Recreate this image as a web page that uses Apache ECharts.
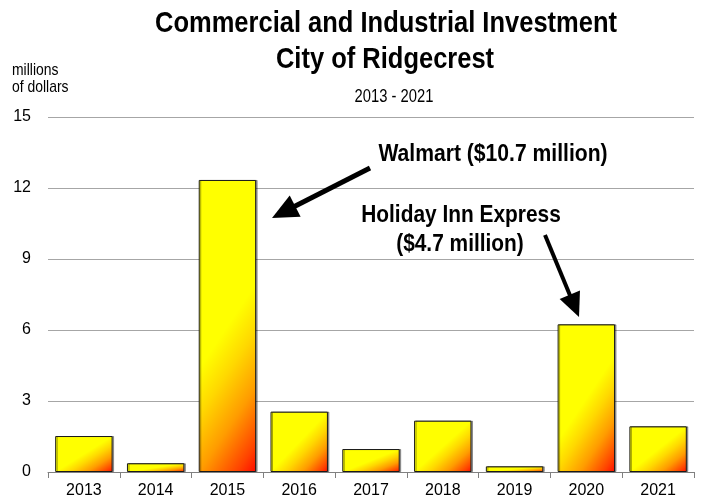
<!DOCTYPE html>
<html>
<head>
<meta charset="utf-8">
<script src="https://cdn.jsdelivr.net/npm/echarts@6/dist/echarts.min.js"></script>
<style>
html,body{margin:0;padding:0;background:#fff;}
#chart{width:702px;height:504px;}
</style>
</head>
<body>
<div id="chart"></div>
<script>
// ---- data ----
const years = ['2013', '2014', '2015', '2016', '2017', '2018', '2019', '2020', '2021'];
const investment = [1.52, 0.37, 12.34, 2.55, 0.97, 2.17, 0.24, 6.24, 1.93];
const yMin = 0, yMax = 15, yStep = 3;
const titleLines = ['Commercial and Industrial Investment', 'City of Ridgecrest'];
const subtitle = '2013 - 2021';
const unitLines = ['millions', 'of dollars'];
const noteWalmart = 'Walmart ($10.7 million)';
const noteHoliday = ['Holiday Inn Express', '($4.7 million)'];

// ---- layout ----
const FONT = "'Liberation Sans', Arial, sans-serif";
const GRID = {left: 48, right: 8, top: 117, bottom: 32};
const PLOT_H = 504 - GRID.top - GRID.bottom;
const PLOT_W = 702 - GRID.left - GRID.right;
const BAR_W = PLOT_W / years.length * 0.8;

const stops = [
  {offset: 0, color: '#ffff00'},
  {offset: 0.25, color: '#ffd800'},
  {offset: 0.55, color: '#ff9c00'},
  {offset: 0.85, color: '#ff4200'},
  {offset: 1, color: '#ff0a00'}
];
function barGradient(v) {
  const h = Math.max(v * PLOT_H / (yMax - yMin), 1);
  const w = BAR_W;
  const a = w, b = Math.min(h, 1.5 * w);
  const k = (w * b + h * a) / (2 * (a * a + b * b));
  return new echarts.graphic.LinearGradient(0.5, 0.5, 0.5 + k * b / w, 0.5 + k * a / h, stops);
}

function arrow(x1, y1, x2, y2, lw, hl, hw) {
  const dx = x2 - x1, dy = y2 - y1, L = Math.sqrt(dx * dx + dy * dy);
  const ux = dx / L, uy = dy / L, px = -uy, py = ux;
  const bx = x2 - ux * hl, by = y2 - uy * hl;
  return [
    {type: 'line', shape: {x1: x1, y1: y1, x2: bx + ux * 2, y2: by + uy * 2},
     style: {stroke: '#000', lineWidth: lw}, z: 100},
    {type: 'polygon', shape: {points: [[x2, y2], [bx + px * hw, by + py * hw], [bx - px * hw, by - py * hw]]},
     style: {fill: '#000'}, z: 100}
  ];
}

// narrow text: condensed horizontally around its anchor
function txt(x, y, text, size, weight, align, sx) {
  return {type: 'text', x: x, y: y, z: 100, scaleX: sx || 0.85, scaleY: 1,
    style: {x: 0, y: 0, text: text, fill: '#000', font: (weight || 'normal') + ' ' + size + 'px ' + FONT,
      textAlign: align || 'center', textVerticalAlign: 'middle'}};
}

const chart = echarts.init(document.getElementById('chart'), null, {renderer: 'canvas'});
chart.setOption({
  animation: false,
  backgroundColor: '#fff',
  grid: GRID,
  xAxis: {
    type: 'category',
    data: years,
    axisLine: {lineStyle: {color: '#808080', width: 1}},
    axisTick: {show: true, length: 6, lineStyle: {color: '#808080'}},
    axisLabel: {color: '#000', fontSize: 16, fontFamily: FONT, margin: 11}
  },
  yAxis: {
    type: 'value',
    min: yMin, max: yMax, interval: yStep,
    axisLine: {show: false},
    axisTick: {show: false},
    axisLabel: {color: '#000', fontSize: 16, fontFamily: FONT, margin: 17},
    splitLine: {lineStyle: {color: '#a6a6a6', width: 1}}
  },
  series: [{
    type: 'bar',
    data: investment,
    barCategoryGap: '20%',
    itemStyle: {
      color: function (p) { return barGradient(p.value); },
      borderColor: '#1a1a1a',
      borderWidth: 1,
      shadowColor: 'rgba(0,0,0,0.35)',
      shadowOffsetX: 1.5,
      shadowOffsetY: 0,
      shadowBlur: 0
    }
  }],
  graphic: [
    txt(386, 24, titleLines[0], 30, 'bold', 'center', 0.85),
    txt(385, 60, titleLines[1], 30, 'bold', 'center', 0.85),
    txt(394, 97, subtitle, 18, 'normal', 'center', 0.82),
    txt(12, 70, unitLines[0], 17, 'normal', 'left', 0.82),
    txt(12, 87, unitLines[1], 17, 'normal', 'left', 0.82),
    txt(493, 154, noteWalmart, 24, 'bold', 'center', 0.88),
    txt(461, 215, noteHoliday[0], 24, 'bold', 'center', 0.87),
    txt(460, 244, noteHoliday[1], 24, 'bold', 'center', 0.87)
  ].concat(arrow(370, 168, 272, 218, 5, 26, 12))
   .concat(arrow(545, 235, 579, 317, 4, 24, 11))
});
</script>
</body>
</html>
